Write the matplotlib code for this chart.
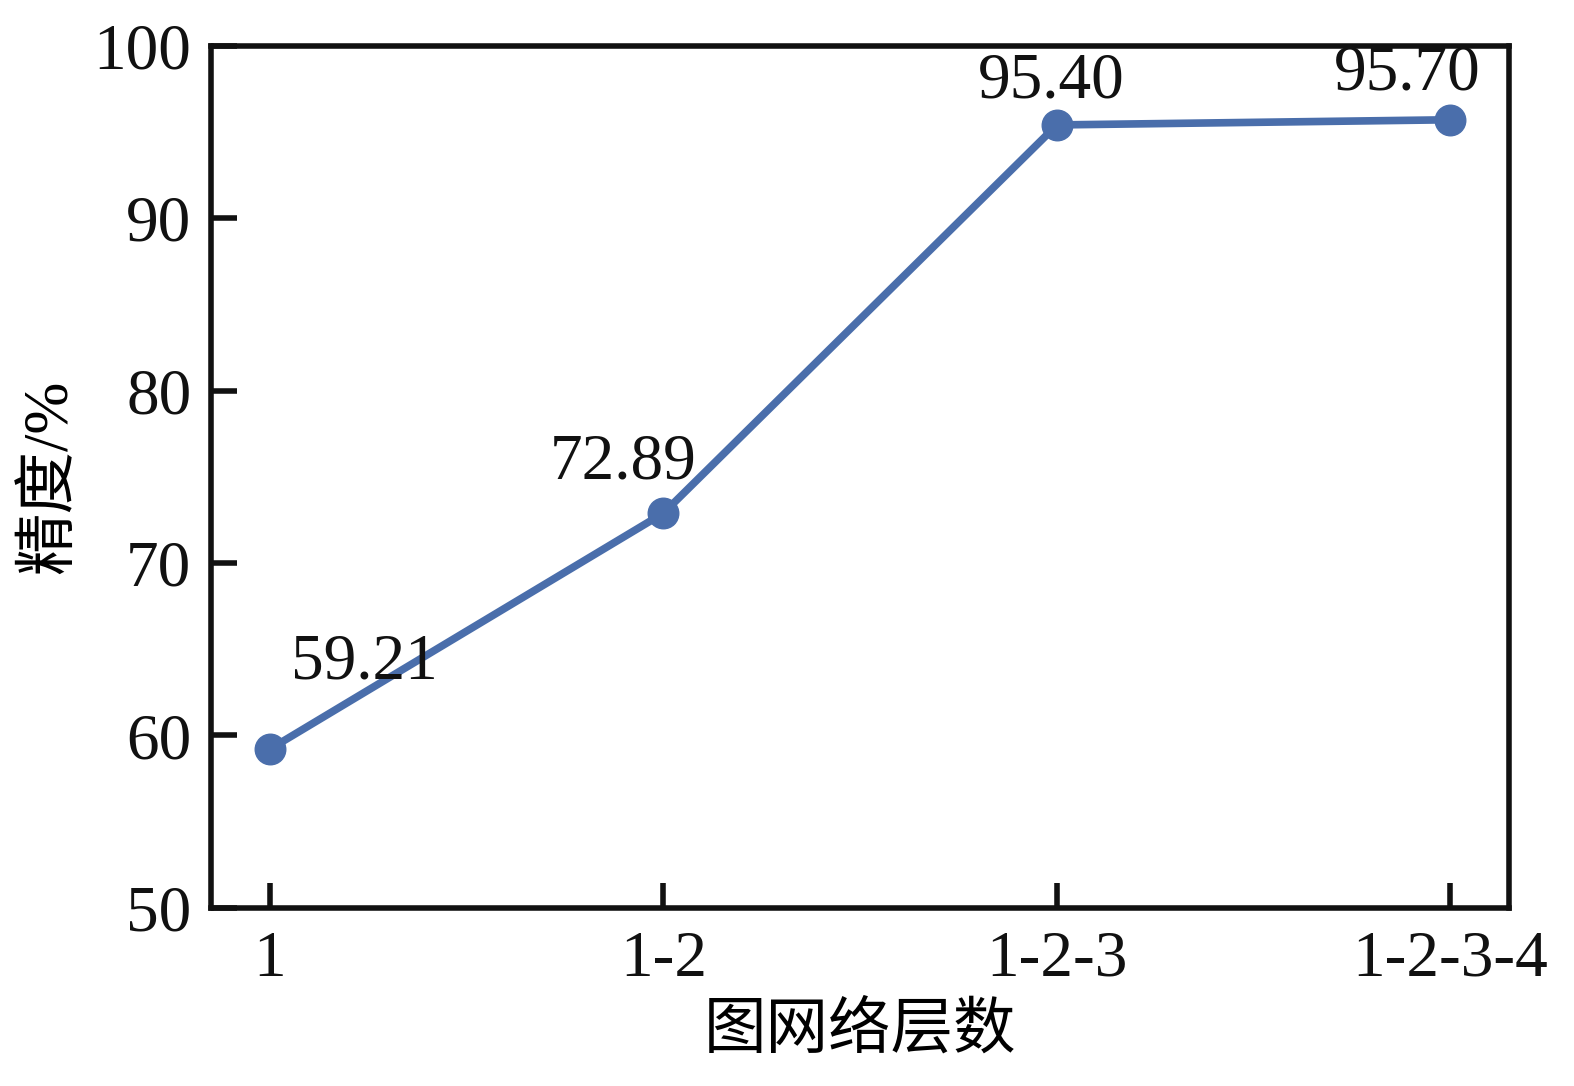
import numpy as np
import matplotlib
matplotlib.use("Agg")
import matplotlib.pyplot as plt

# data
layers = ["1", "1-2", "1-2-3", "1-2-3-4"]
accuracy = [59.21, 72.89, 95.40, 95.70]
label_text = ["59.21", "72.89", "95.40", "95.70"]
# label offsets in points (dx, dy) from each point
label_offsets = [(68, 62), (-29, 36), (-4, 31), (-31, 33)]

plt.rcParams['font.family'] = ['Liberation Serif', 'Noto Sans CJK SC']
plt.rcParams['font.size'] = 47

fig = plt.figure(figsize=(15.74, 10.86), dpi=100)
ax = fig.add_axes([0.134, 0.164, 0.825, 0.794])

x = np.arange(len(layers))
ax.plot(x, accuracy, color='#4a6eab', linewidth=5.5, marker='o', markersize=22)

for xi, yi, txt, off in zip(x, accuracy, label_text, label_offsets):
    ax.annotate(txt, (xi, yi), xytext=off, textcoords='offset points',
                ha='center', va='center', fontsize=47, color='#111111')

ax.set_xlim(-0.15, 3.15)
ax.set_ylim(50, 100)
ax.set_xticks(x)
ax.set_xticklabels(layers)
ax.set_yticks([50, 60, 70, 80, 90, 100])

ax.set_xlabel('图网络层数', fontsize=45, labelpad=10)
ax.set_ylabel('精度/%', fontsize=45, labelpad=10)

for s in ax.spines.values():
    s.set_linewidth(4)
    s.set_color('#111111')
ax.tick_params(axis='y', direction='in', length=19, width=4, pad=14, colors='#111111')
ax.tick_params(axis='x', direction='in', length=18, width=4, pad=16, colors='#111111')

plt.savefig('out.png', dpi=100)
